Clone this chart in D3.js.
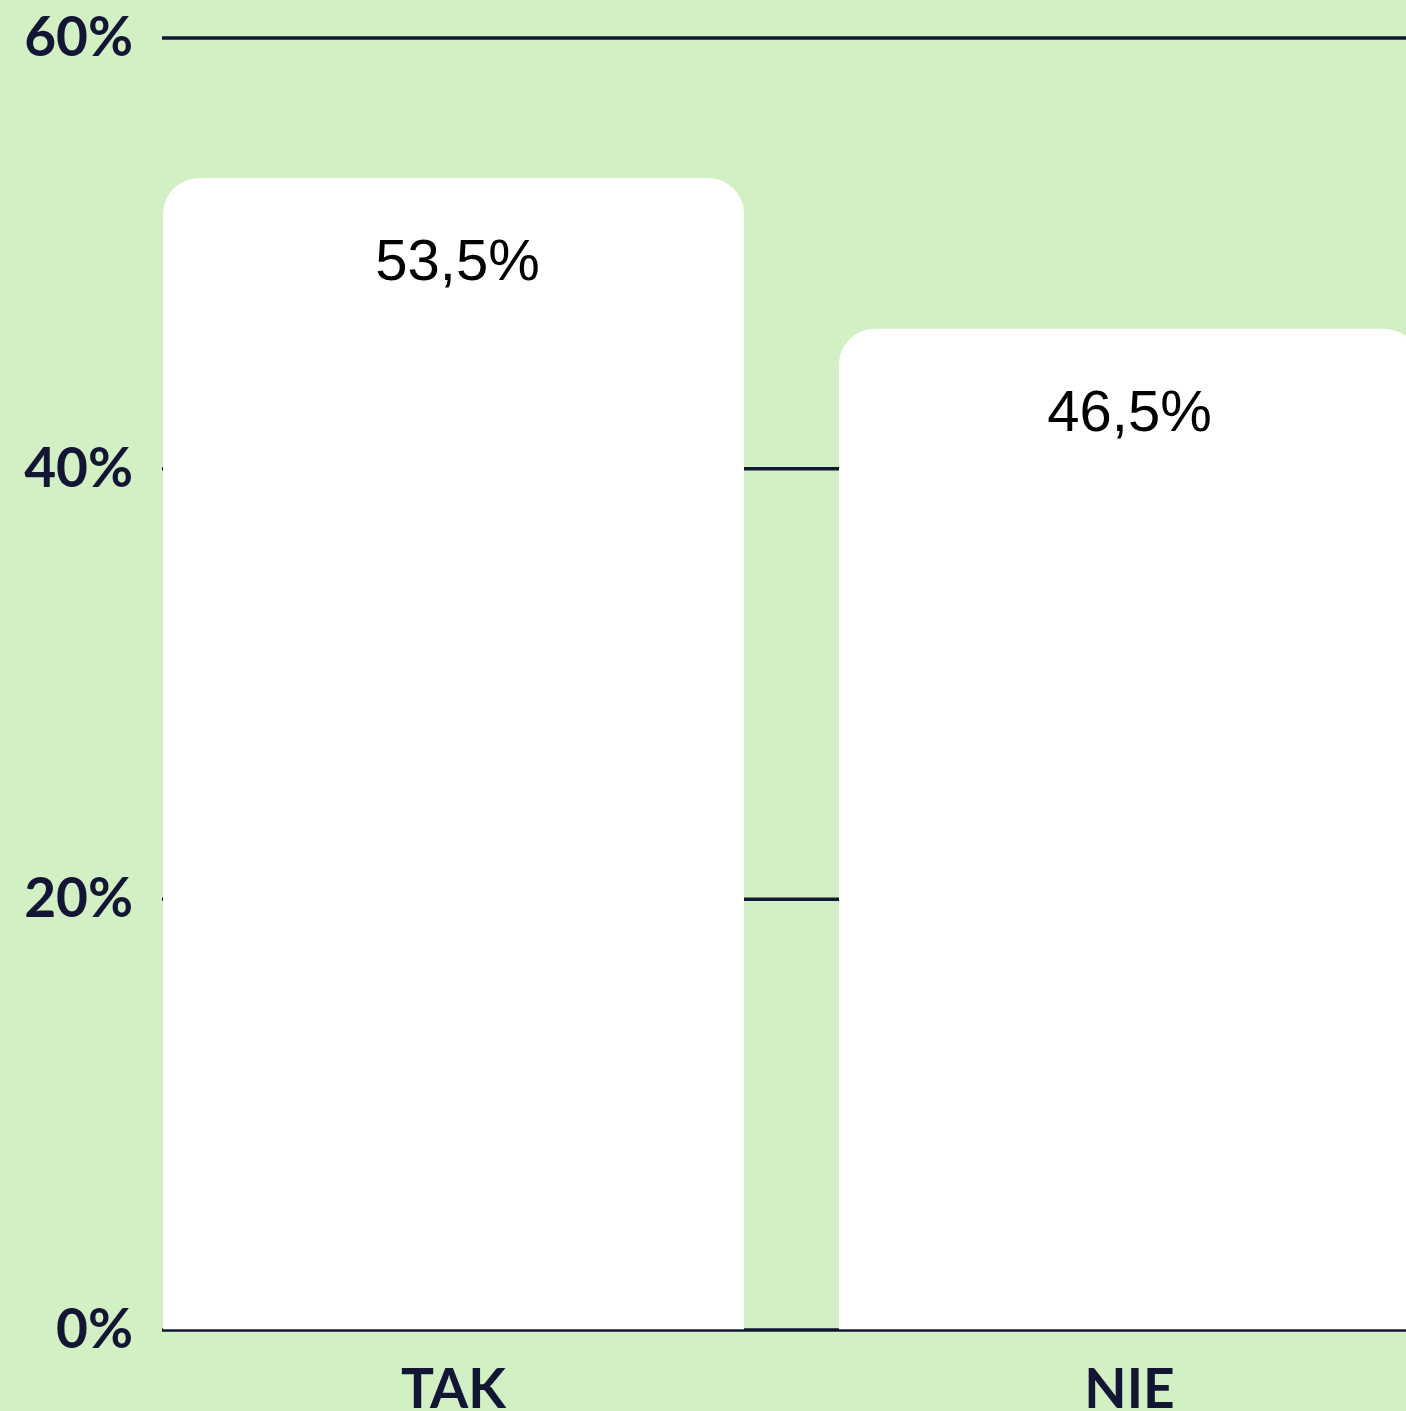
<!DOCTYPE html>
<html>
<head>
<meta charset="utf-8">
<script src="https://cdn.jsdelivr.net/npm/d3@7"></script>
<style>
  html, body { margin: 0; padding: 0; background: #d3f0c5; }
  svg { display: block; }
</style>
</head>
<body>
<div class="container"></div>
<script>
var categories = ["TAK", "NIE"];
var values = [53.5, 46.5];
var valueLabels = ["53,5%", "46,5%"];
var yTicks = [0, 20, 40, 60];

var w = 1406;
var h = 1411;
var left = 163;
var top0 = 38;
var bottom = 1330;

var svg = d3.select(".container")
    .append("svg")
    .attr("width", w)
    .attr("height", h);

svg.append("rect")
    .attr("width", w)
    .attr("height", h)
    .attr("fill", "#d3f0c5");

var x = d3.scaleBand()
    .domain(categories)
    .range([left, 1420])
    .paddingInner(0.1405)
    .paddingOuter(0);

var y = d3.scaleLinear()
    .domain([0, 60])
    .range([bottom, top0]);

// grid lines behind the bars
svg.selectAll("line.grid")
    .data(yTicks)
    .enter()
    .append("line")
    .attr("class", "grid")
    .attr("x1", 162)
    .attr("x2", w)
    .attr("y1", function(d) { return y(d); })
    .attr("y2", function(d) { return y(d); })
    .attr("stroke", "#131735")
    .attr("stroke-width", 3.5);

// y tick labels
svg.selectAll("text.ytick")
    .data(yTicks)
    .enter()
    .append("text")
    .attr("class", "ytick")
    .attr("x", 133)
    .attr("y", function(d) { return y(d) + 18; })
    .attr("text-anchor", "end")
    .attr("font-family", "Lato")
    .attr("font-weight", "bold")
    .attr("font-size", "55px")
    .attr("fill", "#121634")
    .text(function(d) { return d + "%"; });

// bars with rounded top corners
function barPath(x0, y0, bw, bh, r) {
    return "M" + x0 + "," + (y0 + bh) +
        "V" + (y0 + r) +
        "A" + r + "," + r + " 0 0 1 " + (x0 + r) + "," + y0 +
        "H" + (x0 + bw - r) +
        "A" + r + "," + r + " 0 0 1 " + (x0 + bw) + "," + (y0 + r) +
        "V" + (y0 + bh) + "Z";
}

svg.selectAll("path.bar")
    .data(values)
    .enter()
    .append("path")
    .attr("class", "bar")
    .attr("d", function(d, i) {
        var bx = x(categories[i]);
        return barPath(bx, y(d), x.bandwidth(), bottom - y(d), 36);
    })
    .attr("fill", "#ffffff");

// thin baseline over the bars
svg.append("line")
    .attr("x1", 162)
    .attr("x2", w)
    .attr("y1", bottom)
    .attr("y2", bottom)
    .attr("stroke", "#131735")
    .attr("stroke-width", 1.5);

// value labels
svg.selectAll("text.val")
    .data(values)
    .enter()
    .append("text")
    .attr("class", "val")
    .attr("x", function(d, i) { return x(categories[i]) + x.bandwidth() / 2 + (i === 0 ? 4 : 0); })
    .attr("y", function(d) { return y(d) + 102; })
    .attr("text-anchor", "middle")
    .attr("font-family", "Liberation Sans")
    .attr("font-size", "58px")
    .attr("fill", "#000000")
    .text(function(d, i) { return valueLabels[i]; });

// category labels
svg.selectAll("text.cat")
    .data(categories)
    .enter()
    .append("text")
    .attr("class", "cat")
    .attr("x", function(d) { return x(d) + x.bandwidth() / 2; })
    .attr("y", 1408)
    .attr("text-anchor", "middle")
    .attr("font-family", "Lato")
    .attr("font-weight", "bold")
    .attr("font-size", "55px")
    .attr("fill", "#121634")
    .text(function(d) { return d; });
</script>
</body>
</html>
